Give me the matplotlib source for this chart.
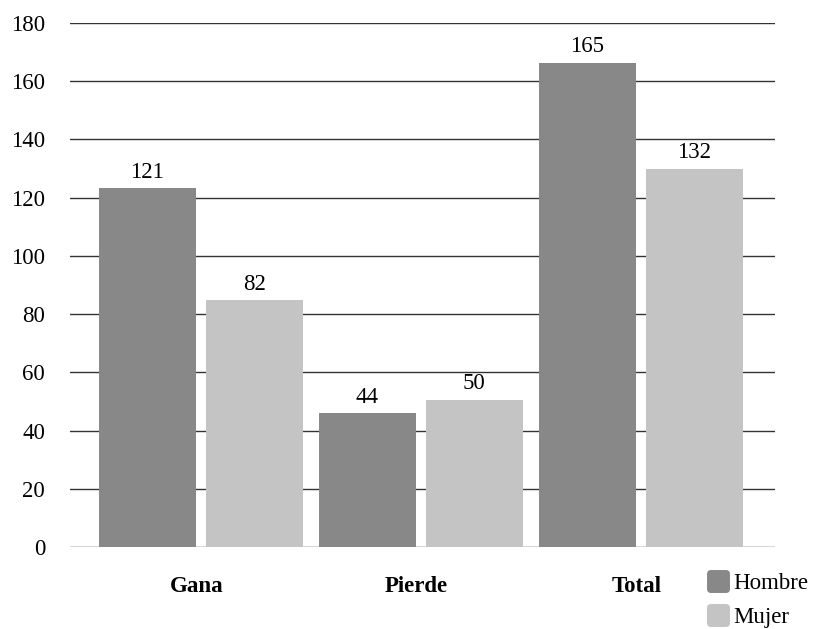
import numpy as np
import matplotlib
matplotlib.use('Agg')
import matplotlib.pyplot as plt
from matplotlib.lines import Line2D
from matplotlib.markers import MarkerStyle

plt.rcParams['font.family'] = ['Liberation Serif', 'DejaVu Serif']

# Data
categories = ['Gana', 'Pierde', 'Total']
series_names = ['Hombre', 'Mujer']
# bar heights as drawn
hombre = [123.3, 46.0, 166.3]
mujer = [84.8, 50.5, 129.9]
# value labels as printed
hombre_labels = ['121', '44', '165']
mujer_labels = ['82', '50', '132']
yticks = [0, 20, 40, 60, 80, 100, 120, 140, 160, 180]

colors = ['#888888', '#c4c4c4']
fs = 16.5

fig = plt.figure(figsize=(8.14, 6.29), dpi=100)
ax = fig.add_axes([0.086, 0.1304, 0.866, 0.833])

x = np.arange(len(categories))
w = 0.441
off = 0.243

# Gridlines behind the bars
for t in yticks:
    ax.axhline(t, color='#333333', linewidth=1, zorder=0)

b1 = ax.bar(x - off, hombre, w, color=colors[0], zorder=2)
b2 = ax.bar(x + off, mujer, w, color=colors[1], zorder=2)

for bars, labels in [(b1, hombre_labels), (b2, mujer_labels)]:
    for rect, lab in zip(bars, labels):
        ax.annotate(lab, (rect.get_x() + rect.get_width() / 2, rect.get_height()),
                    xytext=(0, 4), textcoords='offset points',
                    ha='center', va='bottom', fontsize=fs)

ax.set_xlim(-0.595, 2.609)
ax.set_ylim(0, 180)
ax.set_yticks(yticks)
ax.tick_params(axis='y', length=0, pad=18, labelsize=fs)
ax.set_xticks(x - 0.02)
ax.set_xticklabels(categories, fontsize=fs, fontweight='bold')
ax.tick_params(axis='x', length=0, pad=21)
for s in ax.spines.values():
    s.set_visible(False)

# rounded square legend keys
mk = MarkerStyle('s', joinstyle='round')
handles = [Line2D([], [], linestyle='', marker=mk, markersize=11,
                  markerfacecolor=c, markeredgecolor=c, markeredgewidth=5)
           for c in colors]
fig.legend(handles, series_names, loc='upper left', bbox_to_anchor=(0.855, 0.107),
           frameon=False, fontsize=fs, handlelength=0.9,
           handletextpad=0.25, labelspacing=0.55, borderpad=0)

fig.savefig('out.png', dpi=100)
